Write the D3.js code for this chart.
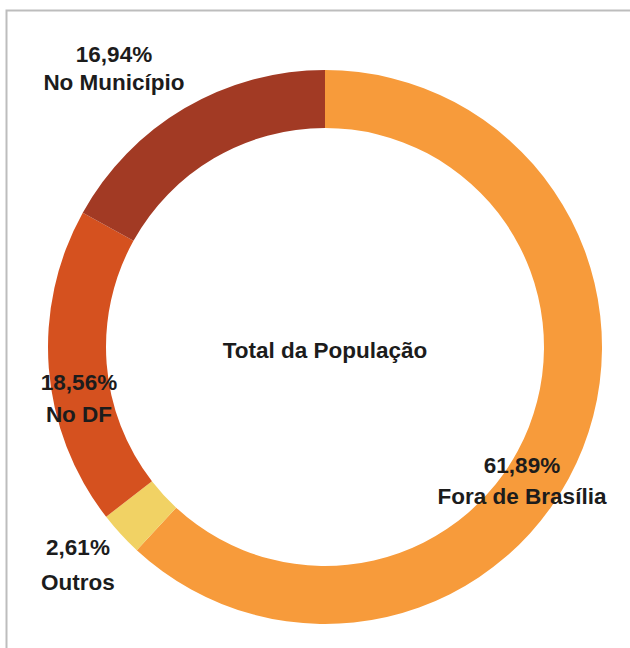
<!DOCTYPE html>
<html>
<head>
<meta charset="utf-8">
<script src="https://cdn.jsdelivr.net/npm/d3@7"></script>
<style>
  html, body { margin: 0; padding: 0; background: #ffffff; }
  svg { display: block; }
  text { font-family: "Liberation Sans", Arial, sans-serif; font-weight: bold; fill: #1c1c1c; }
</style>
</head>
<body>
<svg id="chart" width="630" height="648"></svg>
<script>
// Origem da população (participação %)
const categories = ["Fora de Brasília", "Outros", "No DF", "No Município"];
const shares = [61.89, 2.61, 18.56, 16.94];
const shareLabels = ["61,89%", "2,61%", "18,56%", "16,94%"];
const sliceColors = ["#F79B3B", "#F1D264", "#D5511F", "#A23A24"];
const centerTitle = "Total da População";

const W = 630, H = 648;
const cx = 325, cy = 347;
const outerR = 277, innerR = 219;

const svg = d3.select("#chart");

// frame (top and left edges)
svg.append("path")
  .attr("d", `M6.5,${H} L6.5,10.5 L${W},10.5`)
  .attr("fill", "none")
  .attr("stroke", "#bdbdbd")
  .attr("stroke-width", 2);

const data = categories.map((c, i) => ({ name: c, value: shares[i], label: shareLabels[i], color: sliceColors[i] }));

const pie = d3.pie().sort(null).value(d => d.value);
const arc = d3.arc().innerRadius(innerR).outerRadius(outerR);

const g = svg.append("g").attr("transform", `translate(${cx},${cy})`);

g.selectAll("path.slice")
  .data(pie(data))
  .join("path")
  .attr("class", "slice")
  .attr("d", arc)
  .attr("fill", d => d.data.color);

// data labels: percentage on first line, category on second
const labelPos = {
  "Fora de Brasília": { x: 522, y: 473, gap: 31 },
  "Outros": { x: 78, y: 555, gap: 35 },
  "No DF": { x: 79, y: 390, gap: 32 },
  "No Município": { x: 114, y: 62, gap: 28 }
};

data.forEach(d => {
  const p = labelPos[d.name];
  const t = svg.append("text")
    .attr("text-anchor", "middle")
    .style("font-size", "22.5px");
  t.append("tspan").attr("x", p.x).attr("y", p.y).text(d.label);
  t.append("tspan").attr("x", p.x).attr("y", p.y + p.gap).text(d.name);
});

svg.append("text")
  .attr("x", cx)
  .attr("y", 358)
  .attr("text-anchor", "middle")
  .style("font-size", "22.5px")
  .text(centerTitle);
</script>
</body>
</html>
